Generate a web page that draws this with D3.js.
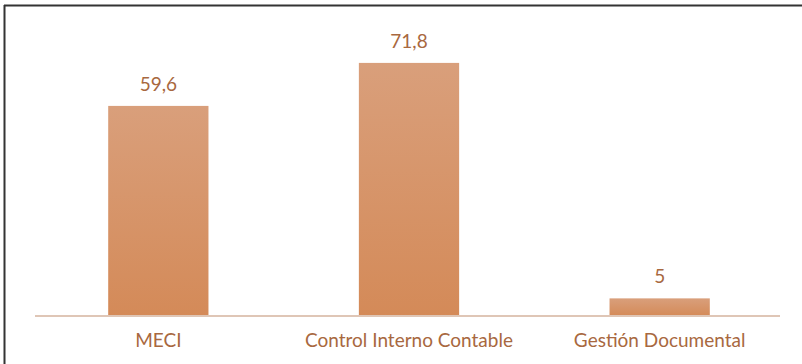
<!DOCTYPE html>
<html><head><meta charset="utf-8">
<script src="https://cdn.jsdelivr.net/npm/d3@7"></script>
<style>html,body{margin:0;padding:0;background:#fff;}svg{display:block;}</style>
</head><body>
<svg id="chart" width="802" height="364"></svg>
<script>
const categories = ["MECI", "Control Interno Contable", "Gestión Documental"];
const values = [59.6, 71.8, 5];
const valueLabels = ["59,6", "71,8", "5"];

const svg = d3.select("#chart");
const W = 802, H = 364;
const baseY = 316;

const defs = svg.append("defs");
const grad = defs.append("linearGradient").attr("id", "barGrad")
  .attr("x1", 0).attr("y1", 0).attr("x2", 0).attr("y2", 1);
grad.append("stop").attr("offset", "0%").attr("stop-color", "#d99f7b");
grad.append("stop").attr("offset", "100%").attr("stop-color", "#d48a58");

// frame
svg.append("line").attr("x1", 4).attr("x2", W).attr("y1", 5.5).attr("y2", 5.5)
  .attr("stroke", "#333").attr("stroke-width", 2);
svg.append("line").attr("x1", 4.5).attr("x2", 4.5).attr("y1", 5).attr("y2", H)
  .attr("stroke", "#333").attr("stroke-width", 2);

const x = d3.scaleBand().domain(categories).range([33, 785])
  .paddingInner(0.6).paddingOuter(0.3);
const y = d3.scaleLinear().domain([0, 80]).range([baseY, 34]);

svg.selectAll("rect.bar").data(categories).join("rect")
  .attr("class", "bar")
  .attr("x", d => x(d))
  .attr("width", x.bandwidth())
  .attr("y", (d, i) => y(values[i]))
  .attr("height", (d, i) => y(0) - y(values[i]))
  .attr("fill", "url(#barGrad)");

// baseline axis
const xAxis = d3.axisBottom(x).tickSize(0).tickPadding(18);
const ax = svg.append("g").attr("transform", `translate(0,${baseY})`).call(xAxis);
ax.select(".domain").attr("d", "M35,0H780").attr("stroke", "#dfc6b6").attr("stroke-width", 2);
ax.selectAll("text").attr("font-family", "Lato, 'Open Sans', sans-serif")
  .attr("font-size", 19).attr("fill", "#a86840");

svg.selectAll("text.val").data(categories).join("text")
  .attr("class", "val")
  .attr("x", d => x(d) + x.bandwidth() / 2)
  .attr("y", (d, i) => y(values[i]) - 15)
  .attr("text-anchor", "middle")
  .attr("font-family", "Lato, 'Open Sans', sans-serif")
  .attr("font-size", 19)
  .attr("fill", "#a86840")
  .text((d, i) => valueLabels[i]);
</script>
</body></html>
